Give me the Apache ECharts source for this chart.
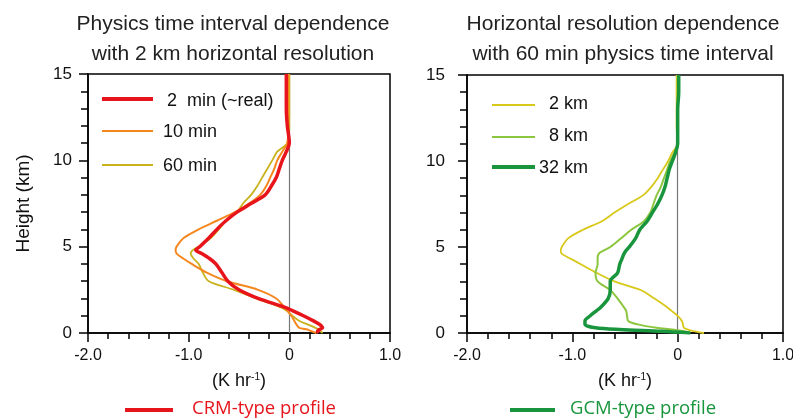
<!DOCTYPE html>
<html>
<head>
<meta charset="UTF-8" />
<title>Heating rate profiles</title>
<script src="https://cdn.jsdelivr.net/npm/echarts@6.0.0/dist/echarts.min.js"></script>
<style>
  html, body { margin: 0; padding: 0; background: #fff; }
  #main { width: 793px; height: 419px; }
</style>
</head>
<body>
<div id="main"></div>
<script>
// heights (km) shared by every profile
const heights = [0, 0.1, 0.2, 0.3, 0.5, 0.7, 1, 1.3, 1.5, 2, 2.5, 3, 3.5, 4, 4.3, 4.6, 4.8, 5,
  5.5, 6, 6.5, 7, 7.5, 8, 8.5, 9, 9.5, 10, 10.5, 11, 12, 13, 14, 15];

// left panel: physics time interval (K hr-1)
const rate2min = [0.29, 0.28, 0.30, 0.33, 0.30, 0.24, 0.14, 0.03, -0.05, -0.31, -0.50, -0.61, -0.67, -0.73, -0.79, -0.87, -0.93, -0.89,
  -0.80, -0.72, -0.63, -0.52, -0.38, -0.24, -0.18, -0.13, -0.10, -0.07, -0.03, 0.00, -0.02, -0.03, -0.03, -0.03];
const rate10min = [0.27, 0.22, 0.18, 0.10, 0.07, 0.05, 0.02, -0.02, -0.05, -0.13, -0.31, -0.62, -0.82, -0.97, -1.05, -1.12, -1.13, -1.12,
  -1.05, -0.90, -0.72, -0.54, -0.40, -0.29, -0.23, -0.19, -0.15, -0.12, -0.07, -0.02, -0.01, -0.01, -0.01, -0.01];
const rate60min = [0.33, 0.31, 0.29, 0.26, 0.18, 0.10, 0.03, -0.03, -0.09, -0.33, -0.55, -0.80, -0.86, -0.90, -0.95, -0.98, -0.96, -0.90,
  -0.78, -0.70, -0.63, -0.52, -0.46, -0.38, -0.32, -0.27, -0.22, -0.17, -0.12, -0.02, 0.00, 0.00, 0.00, 0.00];

// right panel: horizontal resolution (K hr-1)
const rate2km = [0.25, 0.16, 0.10, 0.06, 0.05, 0.04, 0.00, -0.06, -0.10, -0.22, -0.35, -0.60, -0.77, -0.92, -1.01, -1.10, -1.11, -1.10,
  -1.04, -0.90, -0.72, -0.60, -0.47, -0.33, -0.25, -0.19, -0.14, -0.09, -0.05, 0.00, -0.01, -0.01, -0.01, -0.01];
const rate8km = [0.12, 0.06, -0.05, -0.20, -0.38, -0.47, -0.48, -0.49, -0.51, -0.57, -0.64, -0.76, -0.78, -0.76, -0.76, -0.75, -0.70, -0.64,
  -0.54, -0.44, -0.32, -0.26, -0.23, -0.20, -0.16, -0.13, -0.10, -0.07, -0.03, 0.00, 0.00, 0.00, 0.00, 0.00];
const rate32km = [0.12, -0.15, -0.55, -0.78, -0.88, -0.88, -0.83, -0.77, -0.73, -0.66, -0.64, -0.64, -0.57, -0.55, -0.53, -0.51, -0.49, -0.46,
  -0.40, -0.36, -0.29, -0.24, -0.19, -0.15, -0.12, -0.10, -0.08, -0.05, -0.02, 0.00, 0.00, 0.00, 0.01, 0.01];

const xTicks = [-2, -1, 0, 1];
const yTicks = [0, 5, 10, 15];

const FONT = '"Liberation Sans", Arial, sans-serif';
const chart = echarts.init(document.getElementById('main'));

function profile(values) {
  return heights.map((h, i) => [values[i], h]);
}

function xAxisFor(grid) {
  return {
    type: 'value', gridIndex: grid, min: xTicks[0], max: xTicks[xTicks.length - 1], interval: 1,
    axisLine: { show: true, onZero: false, lineStyle: { color: '#000', width: 1.5 } },
    axisTick: { show: true, inside: false, length: 9, lineStyle: { color: '#000', width: 1.5 } },
    minorTick: { show: true, splitNumber: 5, length: 6, lineStyle: { color: '#000', width: 1.5 } },
    splitLine: { show: false },
    axisLabel: {
      color: '#111', fontSize: 16, fontFamily: FONT, margin: 15,
      formatter: v => (v === 0 ? '0' : v.toFixed(1))
    },
    name: '(K hr{sup|-1})', nameLocation: 'middle', nameGap: 39,
    nameTextStyle: {
      color: '#111', fontSize: 18, fontFamily: FONT,
      rich: { sup: { fontSize: 10, fontFamily: FONT, color: '#111', verticalAlign: 'top', lineHeight: 12 } }
    }
  };
}

function yAxisFor(grid, margin, withName) {
  const ax = {
    type: 'value', gridIndex: grid, min: yTicks[0], max: yTicks[yTicks.length - 1], interval: 5,
    axisLine: { show: true, onZero: false, lineStyle: { color: '#000', width: 1.5 } },
    axisTick: { show: true, inside: false, length: 9, lineStyle: { color: '#000', width: 1.5 } },
    minorTick: { show: true, splitNumber: 5, length: 7, lineStyle: { color: '#000', width: 1.5 } },
    splitLine: { show: false },
    axisLabel: { color: '#111', fontSize: 17, fontFamily: FONT, margin: margin }
  };
  if (withName) {
    ax.name = 'Height (km)';
    ax.nameLocation = 'middle';
    ax.nameGap = 55;
    ax.nameTextStyle = { color: '#111', fontSize: 19, fontFamily: FONT };
  }
  return ax;
}

function curve(name, grid, values, color, width, withZero) {
  const s = {
    name: name, type: 'line', xAxisIndex: grid, yAxisIndex: grid,
    data: profile(values), showSymbol: false, smooth: 0.3, silent: true,
    lineStyle: { color: color, width: width }, z: 3
  };
  if (withZero) {
    s.markLine = {
      silent: true, symbol: ['none', 'none'], z: 1, label: { show: false },
      lineStyle: { color: '#777', width: 1.2, type: 'solid' },
      data: [{ xAxis: 0 }]
    };
  }
  return s;
}

function legendLine(x1, x2, y, color, width) {
  return { type: 'line', shape: { x1: x1, y1: y, x2: x2, y2: y }, style: { stroke: color, lineWidth: width } };
}
function legendText(x, y, text, size, color, align, family) {
  return {
    type: 'text', x: x, y: y,
    style: { text: text, fontSize: size, fontFamily: family || FONT, fill: color, align: align || 'left', verticalAlign: 'middle' }
  };
}

const titleStyle = { color: '#222', fontSize: 21, fontWeight: 'normal', fontFamily: FONT, lineHeight: 30 };
const BOTTOM_FONT = '"Open Sans", "Noto Sans", sans-serif';

chart.setOption({
  backgroundColor: '#fff',
  animation: false,
  title: [
    { text: 'Physics time interval dependence\nwith 2 km horizontal resolution', left: 233, top: 9, padding: 0, textAlign: 'center', textStyle: titleStyle },
    { text: 'Horizontal resolution dependence\nwith 60 min physics time interval', left: 623, top: 9, padding: 0, textAlign: 'center', textStyle: titleStyle }
  ],
  grid: [
    { left: 88, top: 74, width: 302, height: 259, show: true, borderColor: '#000', borderWidth: 1.5, backgroundColor: '#fff', outerBoundsMode: 'none' },
    { left: 467, top: 75, width: 316, height: 258, show: true, borderColor: '#000', borderWidth: 1.5, backgroundColor: '#fff', outerBoundsMode: 'none' }
  ],
  xAxis: [xAxisFor(0), xAxisFor(1)],
  yAxis: [yAxisFor(0, 16, true), yAxisFor(1, 22, false)],
  series: [
    curve('60 min', 0, rate60min, '#c9b21c', 1.8, true),
    curve('10 min', 0, rate10min, '#f5871f', 2, false),
    curve('2 min (~real)', 0, rate2min, '#e8141c', 3.5, false),
    curve('2 km', 1, rate2km, '#d8c81a', 1.8, true),
    curve('8 km', 1, rate8km, '#8cc63f', 2, false),
    curve('32 km', 1, rate32km, '#18953d', 3.5, false)
  ],
  graphic: [
    legendLine(102, 153, 99, '#e8141c', 4),
    legendText(167, 101, '2  min (~real)', 18, '#111'),
    legendLine(102, 153, 131, '#f5871f', 2),
    legendText(163, 132, '10 min', 18, '#111'),
    legendLine(102, 153, 165, '#c9b21c', 2),
    legendText(163, 166, '60 min', 18, '#111'),

    legendLine(492, 535, 105, '#d8c81a', 2),
    legendText(588, 104, '2 km', 18, '#111', 'right'),
    legendLine(492, 535, 137, '#8cc63f', 2),
    legendText(588, 136, '8 km', 18, '#111', 'right'),
    legendLine(492, 535, 167, '#18953d', 4),
    legendText(588, 168, '32 km', 18, '#111', 'right'),

    legendLine(125, 173, 410, '#e8141c', 4),
    legendText(192, 409, 'CRM-type profile', 18.5, '#e8141c', 'left', BOTTOM_FONT),
    legendLine(510, 555, 410, '#18953d', 4),
    legendText(570, 409, 'GCM-type profile', 18.5, '#18953d', 'left', BOTTOM_FONT)
  ]
});
</script>
</body>
</html>
